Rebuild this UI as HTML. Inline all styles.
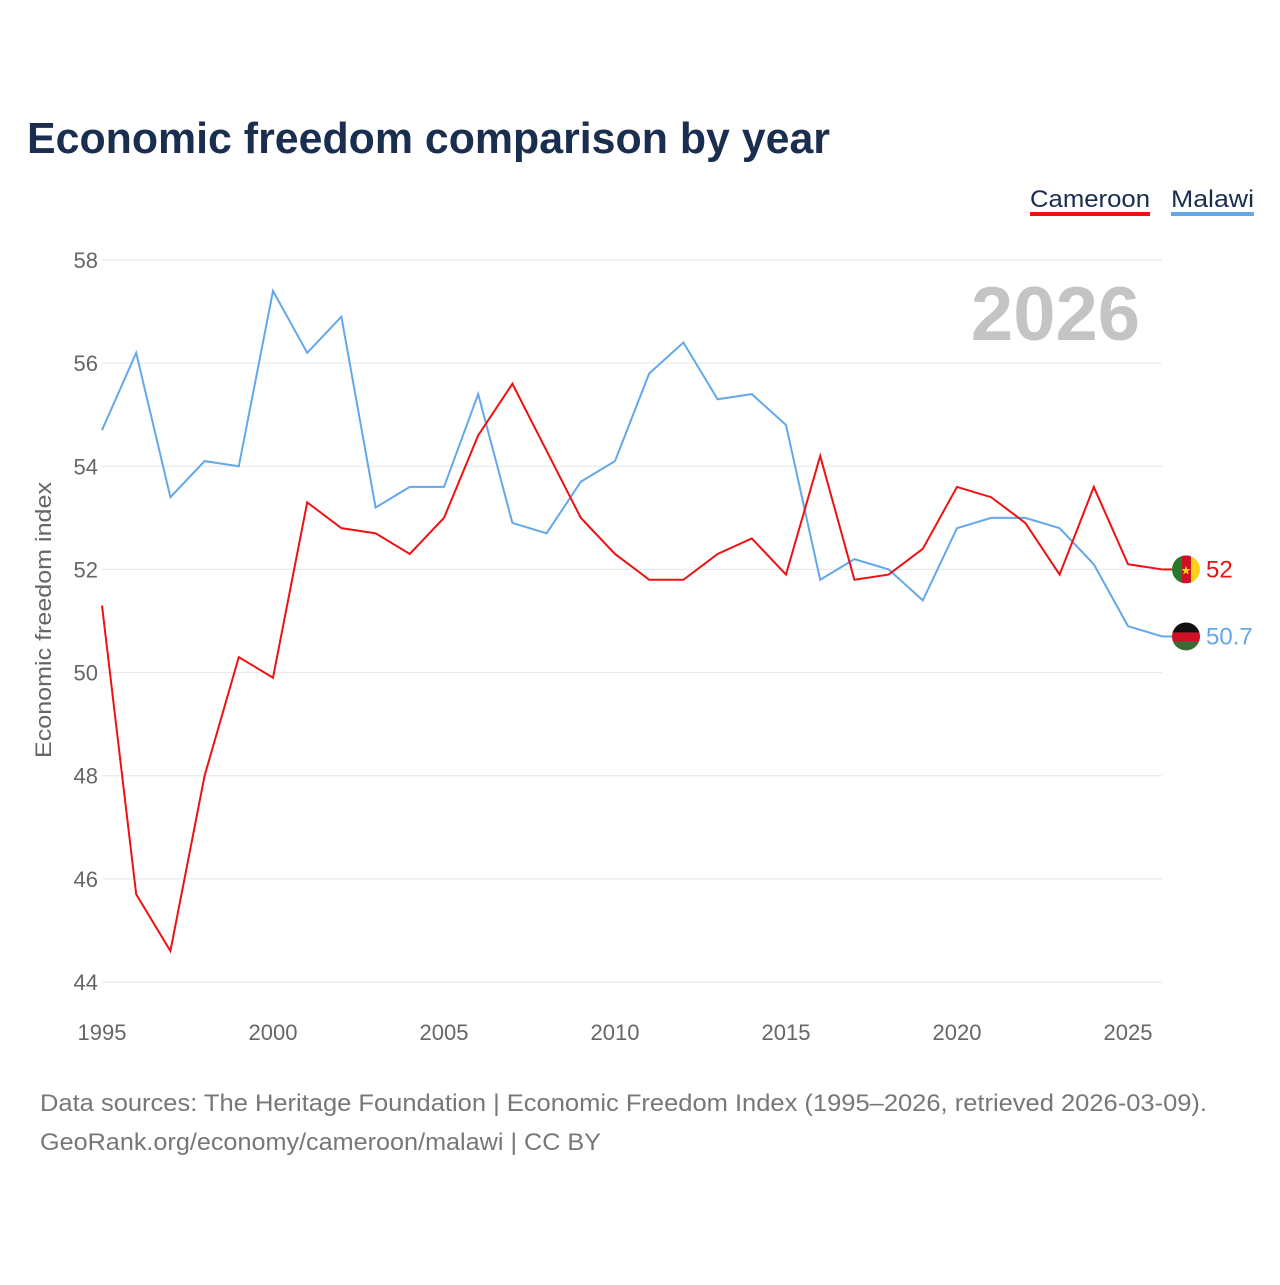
<!DOCTYPE html>
<html><head><meta charset="utf-8"><style>
body{margin:0;background:#fff;font-family:"Liberation Sans",sans-serif;}
</style></head><body>
<svg width="1280" height="1280" viewBox="0 0 1280 1280">
<text x="27" y="153" font-size="44" font-weight="bold" fill="#1a2e4f" textLength="803" lengthAdjust="spacingAndGlyphs">Economic freedom comparison by year</text>
<g>
<text x="1030" y="207" font-size="24" fill="#1a2e4f" textLength="120" lengthAdjust="spacingAndGlyphs">Cameroon</text>
<rect x="1030" y="212" width="120" height="4" fill="#ee1111"/>
<text x="1171" y="207" font-size="24" fill="#1a2e4f" textLength="83" lengthAdjust="spacingAndGlyphs">Malawi</text>
<rect x="1171" y="212" width="83" height="4" fill="#63a8ea"/>
</g>
<text x="1140" y="340" font-size="76" font-weight="bold" fill="#c4c4c4" text-anchor="end">2026</text>
<text transform="translate(51,620) rotate(-90)" font-size="22" fill="#666" text-anchor="middle" textLength="276" lengthAdjust="spacingAndGlyphs">Economic freedom index</text>
<g id="grid"></g><g id="lines"></g><g id="ends"></g>
<text x="40" y="1111" font-size="24" fill="#777" textLength="1167" lengthAdjust="spacingAndGlyphs">Data sources: The Heritage Foundation | Economic Freedom Index (1995–2026, retrieved 2026-03-09).</text>
<text x="40" y="1150" font-size="24" fill="#777" textLength="561" lengthAdjust="spacingAndGlyphs">GeoRank.org/economy/cameroon/malawi | CC BY</text>
</svg>
<script>
const years=[1995,1996,1997,1998,1999,2000,2001,2002,2003,2004,2005,2006,2007,2008,2009,2010,2011,2012,2013,2014,2015,2016,2017,2018,2019,2020,2021,2022,2023,2024,2025,2026];
const cameroon=[51.3,45.7,44.6,48.0,50.3,49.9,53.3,52.8,52.7,52.3,53.0,54.6,55.6,54.3,53.0,52.3,51.8,51.8,52.3,52.6,51.9,54.2,51.8,51.9,52.4,53.6,53.4,52.9,51.9,53.6,52.1,52.0];
const malawi=[54.7,56.2,53.4,54.1,54.0,57.4,56.2,56.9,53.2,53.6,53.6,55.4,52.9,52.7,53.7,54.1,55.8,56.4,55.3,55.4,54.8,51.8,52.2,52.0,51.4,52.8,53.0,53.0,52.8,52.1,50.9,50.7];
const yTicks=[44,46,48,50,52,54,56,58];
const xTicks=[1995,2000,2005,2010,2015,2020,2025];
const NS="http://www.w3.org/2000/svg";
const x=v=>102+(v-1995)*(1128-102)/30;
const y=v=>982-(v-44)*(982-260)/14;
function mk(t,a,p){const e=document.createElementNS(NS,t);for(const k in a)e.setAttribute(k,a[k]);p.appendChild(e);return e;}
const g=document.getElementById('grid');
yTicks.forEach(t=>{
 const l=mk('line',{x1:102,x2:1162,y1:y(t),y2:y(t),stroke:'#e6e6e6','stroke-width':1},g);
 
 
 const tx=mk('text',{x:98,y:y(t)+8,'font-size':22,fill:'#666','text-anchor':'end'},g);
 tx.textContent=t;
 
 
});
xTicks.forEach(t=>{
 const tx=mk('text',{x:x(t),y:1040,'font-size':22,fill:'#666','text-anchor':'middle'},g);
 tx.textContent=t;
 
 
});
const L=document.getElementById('lines');
function line(vals,col,name){
 const p=mk('polyline',{points:vals.map((v,i)=>x(years[i])+','+y(v)).join(' '),fill:'none',stroke:col,'stroke-width':2},L);
 
 
}
line(malawi,'#63a8ea','malawi-line');
line(cameroon,'#ee1111','cameroon-line');
const E=document.getElementById('ends');
function end(vals,col,name,flag){
 const v=vals[vals.length-1],cy=y(v),cx=1186;
 const gg=mk('g',{},E);
 
 
 mk('line',{x1:x(2026),x2:cx-14,y1:cy,y2:cy,stroke:col,'stroke-width':2},gg);
 const cp=mk('clipPath',{id:'c'+name},gg);mk('circle',{cx:cx,cy:cy,r:14},cp);
 const fg=mk('g',{'clip-path':'url(#c'+name+')'},gg);
 if(flag==='cm'){
  mk('rect',{x:cx-14,y:cy-14,width:10,height:28,fill:'#2b7a2b'},fg);
  mk('rect',{x:cx-4,y:cy-14,width:9,height:28,fill:'#ce1126'},fg);
  mk('rect',{x:cx+5,y:cy-14,width:9,height:28,fill:'#fcd116'},fg);
  const s=mk('text',{x:cx,y:cy+5,'font-size':12,fill:'#fcd116','text-anchor':'middle'},fg);s.textContent='★';
 }else{
  mk('rect',{x:cx-14,y:cy-14,width:28,height:10,fill:'#111'},fg);
  mk('rect',{x:cx-14,y:cy-4,width:28,height:9,fill:'#ce1126'},fg);
  mk('rect',{x:cx-14,y:cy+5,width:28,height:9,fill:'#3a6b35'},fg);
 }
 const t=mk('text',{x:1206,y:cy+8,'font-size':24,fill:col},gg);
 t.textContent=v;
}
end(cameroon,'#ee1111','cameroon','cm');
end(malawi,'#63a8ea','malawi','mw');
</script>
</body></html>
